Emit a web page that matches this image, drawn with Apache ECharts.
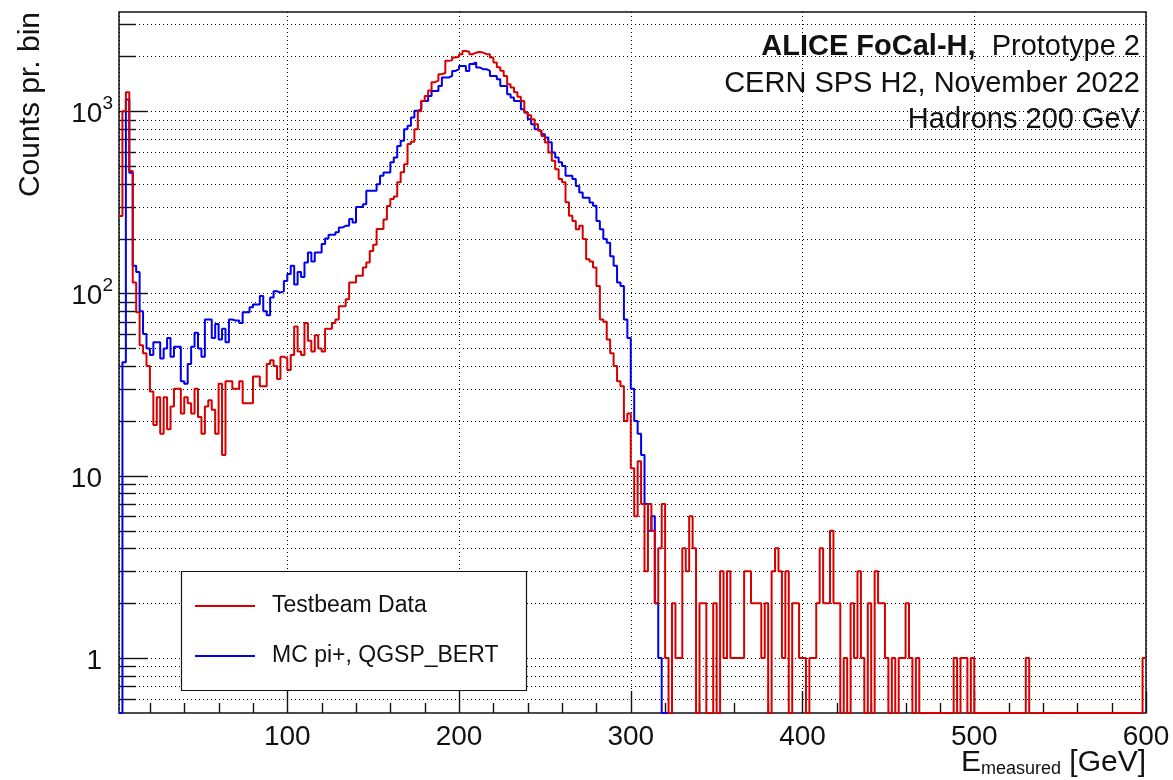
<!DOCTYPE html>
<html>
<head>
<meta charset="utf-8">
<title>ALICE FoCal-H energy response, hadrons 200 GeV</title>
<script src="https://cdn.jsdelivr.net/npm/echarts@6/dist/echarts.min.js"></script>
<style>
  html, body { margin: 0; padding: 0; background: #ffffff; }
  #chart { width: 1173px; height: 780px; }
</style>
</head>
<body>
<div id="chart"></div>
<script>
// Histogram binning (GeV): first visible bin starts at 2 GeV, 2 GeV wide
const BIN_START = 2;
const BIN_WIDTH = 2;
const X_MIN = 2;
const X_MAX = 600;
const Y_MIN = 0.5;
const Y_MAX = 3500;

// Counts per bin, testbeam data (bins 2-4, 4-6, ... 598-600 GeV)
const testbeamCounts = [
  266, 1000, 1270, 470, 115, 79, 52, 47, 40, 29,
  19, 27, 17, 27, 18, 24, 30, 30, 22, 27,
  25, 22, 30, 21, 17, 24, 26, 23, 17, 32,
  13, 33, 33, 30, 30, 33, 25, 25, 25, 35,
  35, 31, 31, 41, 43, 40, 34, 45, 44, 38,
  46, 66, 48, 46, 69, 55, 48, 59, 50, 48,
  64, 64, 69, 72, 85, 85, 93, 115, 115, 125,
  125, 139, 148, 171, 185, 226, 226, 255, 302, 330,
  340, 407, 462, 512, 660, 680, 797, 1000, 1139, 1213,
  1300, 1442, 1470, 1596, 1620, 1888, 1900, 1970, 1990, 2054,
  2140, 2120, 2054, 2097, 2110, 2097, 2054, 2054, 1970, 1850,
  1740, 1665, 1562, 1406, 1350, 1270, 1200, 1139, 987, 950,
  904, 849, 780, 732, 673, 593, 534, 481, 424, 408,
  317, 267, 250, 225, 235, 199, 154, 150, 139, 110,
  72, 70, 56, 47, 40, 33, 31, 20, 22, 11,
  6, 12, 7, 3, 7, 5, 2, 4, 7, 1,
  0, 2, 1, 1, 4, 3, 6, 4, 0, 2,
  2, 0, 0, 2, 0, 3, 1, 3, 1, 1,
  1, 1, 3, 3, 2, 2, 2, 1, 2, 0,
  3, 4, 3, 1, 3, 0, 2, 2, 1, 1,
  0, 1, 1, 2, 4, 2, 2, 5, 2, 2,
  0, 1, 0, 2, 1, 3, 1, 0, 2, 0,
  3, 2, 2, 1, 0, 1, 0, 1, 1, 2,
  1, 0, 1, 0, 0, 0, 0, 0, 0, 0,
  0, 0, 0, 1, 0, 1, 1, 0, 1, 0,
  0, 0, 0, 0, 0, 0, 0, 0, 0, 0,
  0, 0, 0, 0, 1, 0, 0, 0, 0, 0,
  0, 0, 0, 0, 0, 0, 0, 0, 0, 0,
  0, 0, 0, 0, 0, 0, 0, 0, 0, 0,
  0, 0, 0, 0, 0, 0, 0, 0, 1
];

// Counts per bin, MC pi+ with QGSP_BERT (bins 2-4 ... 320-322 GeV, empty above)
const mcCounts = [
  0, 42, 1160, 460, 142, 131, 80, 60, 50, 46,
  54, 54, 44, 50, 57, 45, 51, 51, 33, 32,
  41, 51, 61, 50, 45, 72, 72, 57, 68, 56,
  64, 54, 72, 71, 71, 69, 79, 79, 84, 87,
  87, 97, 80, 76, 95, 103, 101, 103, 117, 128,
  142, 112, 131, 123, 148, 168, 150, 168, 168, 187,
  200, 210, 210, 217, 230, 235, 235, 256, 245, 298,
  298, 309, 366, 366, 366, 398, 442, 461, 461, 525,
  557, 645, 688, 797, 831, 923, 1004, 1026, 1139, 1139,
  1213, 1292, 1292, 1376, 1530, 1530, 1562, 1663, 1700, 1772,
  1772, 1663, 1815, 1850, 1737, 1700, 1700, 1663, 1562, 1562,
  1498, 1376, 1376, 1240, 1189, 1139, 1139, 1026, 984, 904,
  849, 797, 780, 748, 718, 676, 593, 557, 525, 501,
  442, 442, 424, 389, 358, 335, 335, 316, 303, 250,
  225, 199, 190, 160, 142, 115, 110, 72, 57, 30,
  20, 17, 13, 7, 5, 6, 2, 1, 0, 0
];

const seriesNames = ['Testbeam Data', 'MC pi+, QGSP_BERT'];
const seriesColors = ['#d60000', '#0000ee'];

// Axis tick values
const xMinorTicks = [20, 40, 60, 80, 120, 140, 160, 180, 220, 240, 260, 280,
  320, 340, 360, 380, 420, 440, 460, 480, 520, 540, 560, 580];
const yDecades = [1, 10, 100, 1000];
const yMinorTicks = [0.6, 0.7, 0.8, 0.9, 2, 3, 4, 5, 6, 7, 8, 9,
  20, 30, 40, 50, 60, 70, 80, 90, 200, 300, 400, 500, 600, 700, 800, 900, 2000, 3000];

const FONT = "'Liberation Sans', Arial, Helvetica, sans-serif";

// Histogram outline: one point per bin lower edge plus the closing upper edge.
// Empty bins sit on the lower frame edge, as on a log scale they have no height.
function histPoints(counts) {
  const pts = counts.map(function (c, i) {
    return [BIN_START + i * BIN_WIDTH, c > 0 ? c : Y_MIN];
  });
  const last = counts[counts.length - 1];
  pts.push([BIN_START + counts.length * BIN_WIDTH, last > 0 ? last : Y_MIN]);
  return pts;
}

function crisp(v) { return Math.round(v) + 0.5; }

// Dotted horizontal grid and left-side ticks at every decade subdivision
function renderYGrid(params, api) {
  const cs = params.coordSys;
  const v = api.value(1);
  const y = crisp(api.coord([X_MIN, v])[1]);
  const major = yDecades.indexOf(v) >= 0;
  return {
    type: 'group',
    children: [
      { type: 'line', shape: { x1: cs.x, y1: y, x2: cs.x + cs.width, y2: y },
        style: { stroke: '#000', lineWidth: 1, lineDash: [1, 3] } },
      { type: 'line', shape: { x1: cs.x, y1: y, x2: cs.x + (major ? 29 : 17), y2: y },
        style: { stroke: '#111', lineWidth: 1.4 } }
    ]
  };
}

// Short inward ticks between the labelled energies
function renderXMinor(params, api) {
  const cs = params.coordSys;
  const x = crisp(api.coord([api.value(0), Y_MIN])[0]);
  const yb = cs.y + cs.height;
  return { type: 'line', shape: { x1: x, y1: yb, x2: x, y2: yb - 10 },
    style: { stroke: '#111', lineWidth: 1.4 } };
}

const chart = echarts.init(document.getElementById('chart'), null, { renderer: 'canvas' });

const option = {
  animation: false,
  backgroundColor: '#ffffff',
  grid: {
    left: 119, top: 12, width: 1027, height: 701,
    show: true, borderColor: '#111', borderWidth: 1.5, backgroundColor: 'transparent'
  },
  xAxis: {
    type: 'value', min: X_MIN, max: X_MAX, splitNumber: 6,
    axisLine: { show: false },
    axisTick: { show: true, inside: true, length: 22, lineStyle: { color: '#111', width: 1.4 } },
    axisLabel: {
      showMinLabel: false, showMaxLabel: true, margin: 10,
      fontSize: 28, fontFamily: FONT, color: '#111'
    },
    splitLine: { show: true, lineStyle: { color: '#000', width: 1, type: [1, 3] } }
  },
  yAxis: {
    type: 'log', logBase: 10, min: Y_MIN, max: Y_MAX,
    axisLine: { show: false },
    axisTick: { show: false },
    splitLine: { show: false },
    axisLabel: {
      showMinLabel: false, showMaxLabel: false, margin: 6,
      fontSize: 28, fontFamily: FONT, color: '#111',
      formatter: function (v) {
        const p = Math.round(Math.log10(v));
        if (p === 0) return '{m|1}';
        if (p === 1) return '{m|10}';
        return '{n|10}{s|' + p + '}';
      },
      rich: {
        m: { fontSize: 28, fontFamily: FONT, color: '#111', padding: [0, 11, 0, 0], lineHeight: 34, verticalAlign: 'bottom' },
        n: { fontSize: 28, fontFamily: FONT, color: '#111', lineHeight: 34, verticalAlign: 'bottom' },
        s: { fontSize: 19, fontFamily: FONT, color: '#111', lineHeight: 22, verticalAlign: 'top' }
      }
    }
  },
  legend: {
    orient: 'vertical', left: 190, top: 589, z: 20,
    icon: 'rect', itemWidth: 60, itemHeight: 2, itemGap: 26,
    data: seriesNames,
    textStyle: { fontSize: 23, fontFamily: FONT, color: '#111', padding: [0, 0, 0, 12], lineHeight: 24 }
  },
  graphic: [
    { type: 'rect', z: 10, silent: true,
      shape: { x: 181.5, y: 571.5, width: 345, height: 119 },
      style: { fill: '#ffffff', stroke: '#111', lineWidth: 1.2 } },
    { type: 'text', x: 31, y: 12, rotation: Math.PI / 2, silent: true,
      style: { text: 'Counts pr. bin', align: 'right', verticalAlign: 'middle',
        fontSize: 30, fontFamily: FONT, fill: '#111' } },
    { type: 'text', x: 1140, y: 47, silent: true,
      style: { text: '{b|ALICE FoCal-H,}{r|  Prototype 2}', align: 'right', verticalAlign: 'middle',
        fontSize: 29, fontFamily: FONT, fill: '#111',
        rich: {
          b: { fontSize: 29, fontFamily: FONT, fontWeight: 'bold', fill: '#111' },
          r: { fontSize: 29, fontFamily: FONT, fill: '#111' }
        } } },
    { type: 'text', x: 1140, y: 84, silent: true,
      style: { text: 'CERN SPS H2, November 2022', align: 'right', verticalAlign: 'middle',
        fontSize: 29, fontFamily: FONT, fill: '#111' } },
    { type: 'text', x: 1140, y: 120, silent: true,
      style: { text: 'Hadrons 200 GeV', align: 'right', verticalAlign: 'middle',
        fontSize: 29, fontFamily: FONT, fill: '#111' } },
    { type: 'text', x: 1146, y: 748, silent: true,
      style: { text: '{e|E}{s|measured}{e| [GeV]}', align: 'right', verticalAlign: 'top',
        fontSize: 30, fontFamily: FONT, fill: '#111',
        rich: {
          e: { fontSize: 30, fontFamily: FONT, fill: '#111', lineHeight: 30, verticalAlign: 'top' },
          s: { fontSize: 18, fontFamily: FONT, fill: '#111', lineHeight: 18, padding: [20, 0, 0, 0], verticalAlign: 'bottom' }
        } } }
  ],
  series: [
    {
      type: 'custom', name: 'ygrid', silent: true, z: 1,
      renderItem: renderYGrid,
      data: yMinorTicks.concat(yDecades).map(function (v) { return [X_MIN, v]; })
    },
    {
      type: 'custom', name: 'xminor', silent: true, z: 1,
      renderItem: renderXMinor,
      data: xMinorTicks.map(function (v) { return [v, Y_MIN]; })
    },
    {
      type: 'line', name: seriesNames[0], step: 'end', z: 4,
      symbol: 'none', showSymbol: false, clip: true,
      data: histPoints(testbeamCounts),
      itemStyle: { color: seriesColors[0] },
      lineStyle: { color: seriesColors[0], width: 2 }
    },
    {
      type: 'line', name: seriesNames[1], step: 'end', z: 3,
      symbol: 'none', showSymbol: false, clip: true,
      data: histPoints(mcCounts),
      itemStyle: { color: seriesColors[1] },
      lineStyle: { color: seriesColors[1], width: 2 }
    }
  ]
};

chart.setOption(option);
</script>
</body>
</html>
